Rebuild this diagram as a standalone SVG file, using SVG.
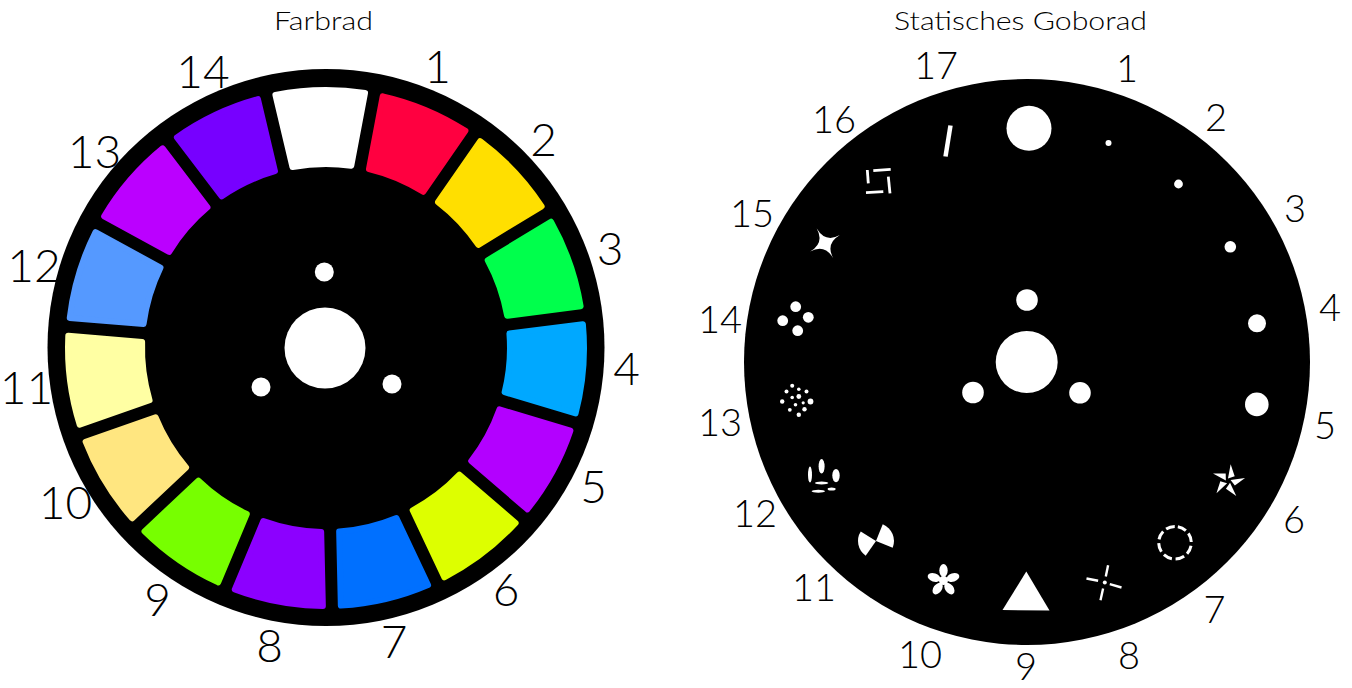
<svg xmlns="http://www.w3.org/2000/svg" xmlns:xlink="http://www.w3.org/1999/xlink" width="1352" height="688" viewBox="0 0 1352 688">
<style>
.title{font-family:Lato,"Liberation Sans",Arial,sans-serif;font-weight:300;font-size:26px;fill:#000;text-anchor:middle}
.lnum{font-family:Lato,"Liberation Sans",Arial,sans-serif;font-weight:300;font-size:46px;fill:#000;text-anchor:middle}
.rnum{font-family:Lato,"Liberation Sans",Arial,sans-serif;font-weight:300;font-size:38px;fill:#000;text-anchor:middle}
.seg{stroke-width:6;stroke-linejoin:round}
.hole{fill:#fff}
.slit{stroke:#fff;fill:none}
</style>
<defs>
<path id="seg" d="M281.195,93.922 A258,258 0 0 1 370.805,93.922 L355.407,166.365 A184,184 0 0 0 296.593,166.365 Z"/>
<path id="blade" d="M0,-17 L5.66,-5.66 L-0.65,-2.41 Z"/>
<ellipse id="petal" cx="0" cy="-10" rx="4.2" ry="6.5"/>
</defs>
<rect width="1352" height="688" fill="#fff"/>

<text class="title" x="323.5" y="30" textLength="99" lengthAdjust="spacingAndGlyphs">Farbrad</text>
<text class="title" x="1020.5" y="30" textLength="253" lengthAdjust="spacingAndGlyphs">Statisches Goborad</text>

<g id="farbrad">
<circle id="farbrad-disc" cx="326" cy="347.5" r="278.5" fill="#000"/>
<g id="farbrad-filters">
<use id="c0" xlink:href="#seg" class="seg" fill="#ffffff" stroke="#ffffff" transform="rotate(-1.3 326 348)"/>
<use id="c1" xlink:href="#seg" class="seg" fill="#ff0040" stroke="#ff0040" transform="rotate(22.7 326 348)"/>
<use id="c2" xlink:href="#seg" class="seg" fill="#ffdf00" stroke="#ffdf00" transform="rotate(46.7 326 348)"/>
<use id="c3" xlink:href="#seg" class="seg" fill="#00ff4c" stroke="#00ff4c" transform="rotate(70.7 326 348)"/>
<use id="c4" xlink:href="#seg" class="seg" fill="#00a8ff" stroke="#00a8ff" transform="rotate(94.7 326 348)"/>
<use id="c5" xlink:href="#seg" class="seg" fill="#b300ff" stroke="#b300ff" transform="rotate(118.7 326 348)"/>
<use id="c6" xlink:href="#seg" class="seg" fill="#ddff00" stroke="#ddff00" transform="rotate(142.7 326 348)"/>
<use id="c7" xlink:href="#seg" class="seg" fill="#0070ff" stroke="#0070ff" transform="rotate(166.7 326 348)"/>
<use id="c8" xlink:href="#seg" class="seg" fill="#8c00ff" stroke="#8c00ff" transform="rotate(190.7 326 348)"/>
<use id="c9" xlink:href="#seg" class="seg" fill="#77ff00" stroke="#77ff00" transform="rotate(214.7 326 348)"/>
<use id="c10" xlink:href="#seg" class="seg" fill="#ffe680" stroke="#ffe680" transform="rotate(238.7 326 348)"/>
<use id="c11" xlink:href="#seg" class="seg" fill="#ffffa3" stroke="#ffffa3" transform="rotate(262.7 326 348)"/>
<use id="c12" xlink:href="#seg" class="seg" fill="#5599ff" stroke="#5599ff" transform="rotate(286.7 326 348)"/>
<use id="c13" xlink:href="#seg" class="seg" fill="#bb00ff" stroke="#bb00ff" transform="rotate(310.7 326 348)"/>
<use id="c14" xlink:href="#seg" class="seg" fill="#7700ff" stroke="#7700ff" transform="rotate(334.7 326 348)"/>
</g>
<g id="farbrad-hub">
<circle class="hole" cx="325" cy="348" r="40.5"/>
<circle class="hole" cx="324.3" cy="272" r="9.5"/>
<circle class="hole" cx="261" cy="387" r="9.5"/>
<circle class="hole" cx="392" cy="384" r="9.5"/>
</g>
<g id="farbrad-labels">
<text class="lnum" x="437.5" y="83">1</text>
<text class="lnum" x="543.5" y="156">2</text>
<text class="lnum" x="610" y="265">3</text>
<text class="lnum" x="626.5" y="385">4</text>
<text class="lnum" x="593.5" y="503">5</text>
<text class="lnum" x="506" y="606">6</text>
<text class="lnum" x="394" y="658">7</text>
<text class="lnum" x="269.5" y="662">8</text>
<text class="lnum" x="157.5" y="616">9</text>
<text class="lnum" x="65.5" y="519">10</text>
<text class="lnum" x="26.5" y="404">11</text>
<text class="lnum" x="34" y="282">12</text>
<text class="lnum" x="94.5" y="168">13</text>
<text class="lnum" x="203" y="88">14</text>
</g>
</g>

<g id="goborad">
<circle id="goborad-disc" cx="1027" cy="362" r="283" fill="#000"/>
<g id="goborad-hub">
<circle class="hole" cx="1026.7" cy="362" r="31"/>
<circle class="hole" cx="1027" cy="300" r="10.8"/>
<circle class="hole" cx="973" cy="392.5" r="10.8"/>
<circle class="hole" cx="1080" cy="392.8" r="10.8"/>
</g>
<g id="gobo-open"><ellipse class="hole" cx="1029" cy="128.3" rx="22.5" ry="22.5"/></g>
<g id="gobo-1"><circle class="hole" cx="1108.5" cy="143" r="3"/></g>
<g id="gobo-2"><circle class="hole" cx="1178.5" cy="184" r="4.4"/></g>
<g id="gobo-3"><circle class="hole" cx="1230.3" cy="246.8" r="5.8"/></g>
<g id="gobo-4"><circle class="hole" cx="1257" cy="323.3" r="9"/></g>
<g id="gobo-5"><circle class="hole" cx="1256.8" cy="404.4" r="11.8"/></g>
<g id="gobo-6" class="hole" transform="translate(1228.3 481) rotate(8)">
<use xlink:href="#blade"/>
<use xlink:href="#blade" transform="rotate(72)"/>
<use xlink:href="#blade" transform="rotate(144)"/>
<use xlink:href="#blade" transform="rotate(216)"/>
<use xlink:href="#blade" transform="rotate(288)"/>
</g>
<g id="gobo-7"><circle cx="1175" cy="542.7" r="16.3" fill="none" stroke="#fff" stroke-width="3" stroke-dasharray="9 3.8" transform="rotate(-80 1175 542.7)"/></g>
<g id="gobo-8" class="slit" stroke-width="2.4" transform="translate(1104.8 582.5)">
<line x1="3.3" y1="-17.3" x2="1" y2="-6"/>
<line x1="-1.7" y1="6" x2="-4.3" y2="17.7"/>
<line x1="-18.3" y1="-4" x2="-6.7" y2="-1.7"/>
<line x1="5" y1="1.7" x2="16.7" y2="5"/>
<circle cx="0" cy="0" r="2" fill="#fff" stroke="none"/>
</g>
<g id="gobo-9"><polygon class="hole" points="1026.3,571.5 1002.5,610 1049.5,610.5"/></g>
<g id="gobo-10" class="hole" transform="translate(943.5 580.5)">
<use xlink:href="#petal"/>
<use xlink:href="#petal" transform="rotate(72)"/>
<use xlink:href="#petal" transform="rotate(144)"/>
<use xlink:href="#petal" transform="rotate(216)"/>
<use xlink:href="#petal" transform="rotate(288)"/>
<circle cx="0" cy="0" r="4.5"/>
</g>
<g id="gobo-11" class="hole" transform="translate(876 541)">
<path d="M0,0 L6.74,-16.69 A18,18 0 0 1 16.69,6.74 Z"/>
<path d="M0,0 L-10.32,14.74 A18,18 0 0 1 -15.26,-9.54 Z"/>
</g>
<g id="gobo-12" class="hole" transform="translate(823.3 476.3)">
<ellipse cx="-13.3" cy="-1.7" rx="2" ry="8"/>
<ellipse cx="-1.7" cy="-10" rx="3" ry="7.3"/>
<ellipse cx="12.7" cy="-0.7" rx="3.7" ry="6.7"/>
<ellipse cx="-1.7" cy="6.7" rx="6.7" ry="1.5"/>
<ellipse cx="-5" cy="15" rx="6.7" ry="1.5"/>
<ellipse cx="8.3" cy="12.7" rx="4" ry="1.5"/>
</g>
<g id="gobo-13" class="hole" transform="translate(796.5 400.5)">
<circle cx="-10" cy="-9" r="2"/>
<circle cx="-4.3" cy="-14.7" r="2"/>
<circle cx="2.3" cy="-11.3" r="1.8"/>
<circle cx="10" cy="-9" r="2"/>
<circle cx="14" cy="1" r="2.9"/>
<circle cx="8" cy="8.7" r="2.2"/>
<circle cx="2.3" cy="14.3" r="2.2"/>
<circle cx="-6.7" cy="9.3" r="1.9"/>
<circle cx="-14.3" cy="1" r="2.2"/>
<circle cx="-4.3" cy="-3" r="1.8"/>
<circle cx="2.3" cy="-4" r="2.4"/>
<circle cx="-1" cy="4.3" r="1.8"/>
<circle cx="6.7" cy="2.3" r="1.6"/>
</g>
<g id="gobo-14" class="hole">
<circle cx="795.7" cy="306.7" r="5.4"/>
<circle cx="782.7" cy="320.7" r="5.4"/>
<circle cx="808.3" cy="317.3" r="5.4"/>
<circle cx="797.7" cy="330.7" r="5.4"/>
</g>
<g id="gobo-15" class="hole" transform="translate(825 243.3) rotate(-29)">
<path d="M17,0 Q0.5,0 0,-17 Q0,-0.5 -17,0 Q-0.5,0 0,17 Q0,0.5 17,0 Z"/>
</g>
<g id="gobo-16" class="slit" stroke-width="2.8">
<line x1="873.3" y1="170.7" x2="890.7" y2="169.3"/>
<line x1="867.3" y1="170" x2="868.3" y2="183.3"/>
<line x1="888.3" y1="176.7" x2="890" y2="193.3"/>
<line x1="866" y1="192.7" x2="883.3" y2="191.7"/>
</g>
<g id="gobo-17"><line class="slit" x1="950.5" y1="125.5" x2="945.5" y2="156.5" stroke-width="4.5"/></g>
<g id="goborad-labels">
<text class="rnum" x="1127" y="82">1</text>
<text class="rnum" x="1216" y="131">2</text>
<text class="rnum" x="1295" y="222">3</text>
<text class="rnum" x="1330" y="321">4</text>
<text class="rnum" x="1325" y="439">5</text>
<text class="rnum" x="1294" y="533">6</text>
<text class="rnum" x="1214.5" y="623">7</text>
<text class="rnum" x="1129" y="669">8</text>
<text class="rnum" x="1026" y="680">9</text>
<text class="rnum" x="920" y="668">10</text>
<text class="rnum" x="814" y="601">11</text>
<text class="rnum" x="755" y="527">12</text>
<text class="rnum" x="720" y="436">13</text>
<text class="rnum" x="720" y="333">14</text>
<text class="rnum" x="752" y="227">15</text>
<text class="rnum" x="834" y="133">16</text>
<text class="rnum" x="936" y="79">17</text>
</g>
</g>
</svg>
